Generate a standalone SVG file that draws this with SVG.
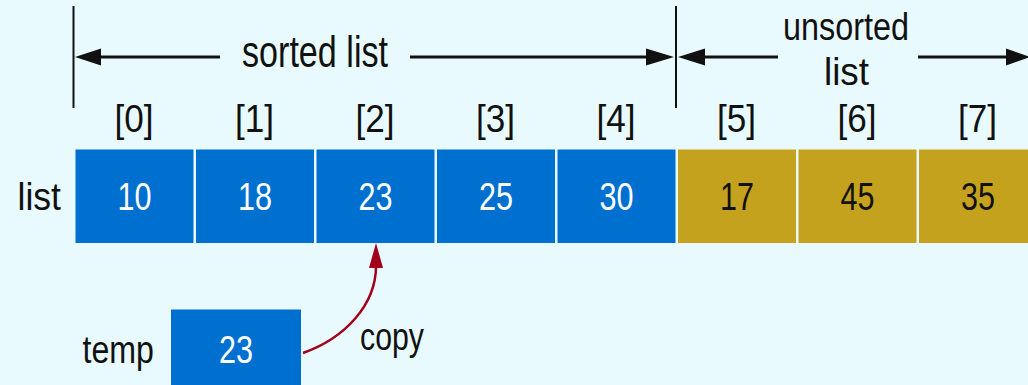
<svg xmlns="http://www.w3.org/2000/svg" width="1028" height="385" viewBox="0 0 1028 385">
  <style>
    text { font-family: "Liberation Sans", Arial, sans-serif; font-size: 39px; fill: #111; }
    .c { text-anchor: middle; }
    .big { font-size: 45px; }
    .sorted { fill: #0070d0; }
    .unsorted { fill: #c5a21d; }
    .on-blue { fill: #ffffff; }
    .dim { stroke: #111; fill: none; }
    .head { fill: #111; }
    .copy { stroke: #a0001a; stroke-width: 2.5; fill: none; }
  </style>
  <rect x="0" y="0" width="1028" height="385" fill="#e8fafd"/>

  <!-- dimension lines -->
  <g id="connectors">
    <line class="dim" x1="73.5" y1="6" x2="73.5" y2="108" stroke-width="2"/>
    <line class="dim" x1="676" y1="6" x2="676" y2="108" stroke-width="2"/>
    <line class="dim" x1="95" y1="57" x2="220" y2="57" stroke-width="3"/>
    <polygon class="head" points="75,57 101,48.5 101,65.5"/>
    <line class="dim" x1="410" y1="57" x2="650" y2="57" stroke-width="3"/>
    <polygon class="head" points="674,57 646,48.5 646,65.5"/>
    <line class="dim" x1="700" y1="57" x2="778" y2="57" stroke-width="3"/>
    <polygon class="head" points="678,57 705,48.5 705,65.5"/>
    <line class="dim" x1="918" y1="57" x2="1010" y2="57" stroke-width="3"/>
    <polygon class="head" points="1030,57 1006,48.5 1006,65.5"/>
    <!-- copy arrow from temp into list[2] -->
    <path class="copy" d="M303,353 C345,338 376,305 376,266"/>
    <polygon points="376,243 369,268 383,268" fill="#a0001a"/>
  </g>

  <g id="range-labels">
    <text class="big" x="242" y="66.5" textLength="146" lengthAdjust="spacingAndGlyphs">sorted list</text>
    <text x="783" y="39.5" textLength="126" lengthAdjust="spacingAndGlyphs">unsorted</text>
    <text x="824" y="85" textLength="45" lengthAdjust="spacingAndGlyphs">list</text>
  </g>

  <g id="indices">
    <text class="c" x="134" y="131.5" textLength="39" lengthAdjust="spacingAndGlyphs">[0]</text>
    <text class="c" x="254.5" y="131.5" textLength="39" lengthAdjust="spacingAndGlyphs">[1]</text>
    <text class="c" x="375" y="131.5" textLength="39" lengthAdjust="spacingAndGlyphs">[2]</text>
    <text class="c" x="495.5" y="131.5" textLength="39" lengthAdjust="spacingAndGlyphs">[3]</text>
    <text class="c" x="616" y="131.5" textLength="39" lengthAdjust="spacingAndGlyphs">[4]</text>
    <text class="c" x="736.5" y="131.5" textLength="39" lengthAdjust="spacingAndGlyphs">[5]</text>
    <text class="c" x="857" y="131.5" textLength="39" lengthAdjust="spacingAndGlyphs">[6]</text>
    <text class="c" x="977.5" y="131.5" textLength="39" lengthAdjust="spacingAndGlyphs">[7]</text>
  </g>

  <text x="17.5" y="209.5" textLength="43.5" lengthAdjust="spacingAndGlyphs">list</text>

  <g id="cell-0"><rect class="sorted" x="75.5" y="149.5" width="118" height="93.5"/><text class="c on-blue" x="134.5" y="210" textLength="34" lengthAdjust="spacingAndGlyphs">10</text></g>
  <g id="cell-1"><rect class="sorted" x="196" y="149.5" width="118" height="93.5"/><text class="c on-blue" x="255" y="210" textLength="34" lengthAdjust="spacingAndGlyphs">18</text></g>
  <g id="cell-2"><rect class="sorted" x="316.5" y="149.5" width="118" height="93.5"/><text class="c on-blue" x="375.5" y="210" textLength="34" lengthAdjust="spacingAndGlyphs">23</text></g>
  <g id="cell-3"><rect class="sorted" x="437" y="149.5" width="118" height="93.5"/><text class="c on-blue" x="496" y="210" textLength="34" lengthAdjust="spacingAndGlyphs">25</text></g>
  <g id="cell-4"><rect class="sorted" x="557.5" y="149.5" width="118" height="93.5"/><text class="c on-blue" x="616.5" y="210" textLength="34" lengthAdjust="spacingAndGlyphs">30</text></g>
  <g id="cell-5"><rect class="unsorted" x="678" y="149.5" width="118" height="93.5"/><text class="c" x="737" y="210" textLength="34" lengthAdjust="spacingAndGlyphs">17</text></g>
  <g id="cell-6"><rect class="unsorted" x="798.5" y="149.5" width="118" height="93.5"/><text class="c" x="857.5" y="210" textLength="34" lengthAdjust="spacingAndGlyphs">45</text></g>
  <g id="cell-7"><rect class="unsorted" x="919" y="149.5" width="118" height="93.5"/><text class="c" x="978" y="210" textLength="34" lengthAdjust="spacingAndGlyphs">35</text></g>

  <g id="temp">
    <text x="82.5" y="362.5" textLength="71.5" lengthAdjust="spacingAndGlyphs">temp</text>
    <rect class="sorted" x="171" y="309.5" width="130" height="80"/>
    <text class="c on-blue" x="236" y="362.5" textLength="34" lengthAdjust="spacingAndGlyphs">23</text>
  </g>

  <text x="360" y="350" textLength="64" lengthAdjust="spacingAndGlyphs">copy</text>
</svg>
